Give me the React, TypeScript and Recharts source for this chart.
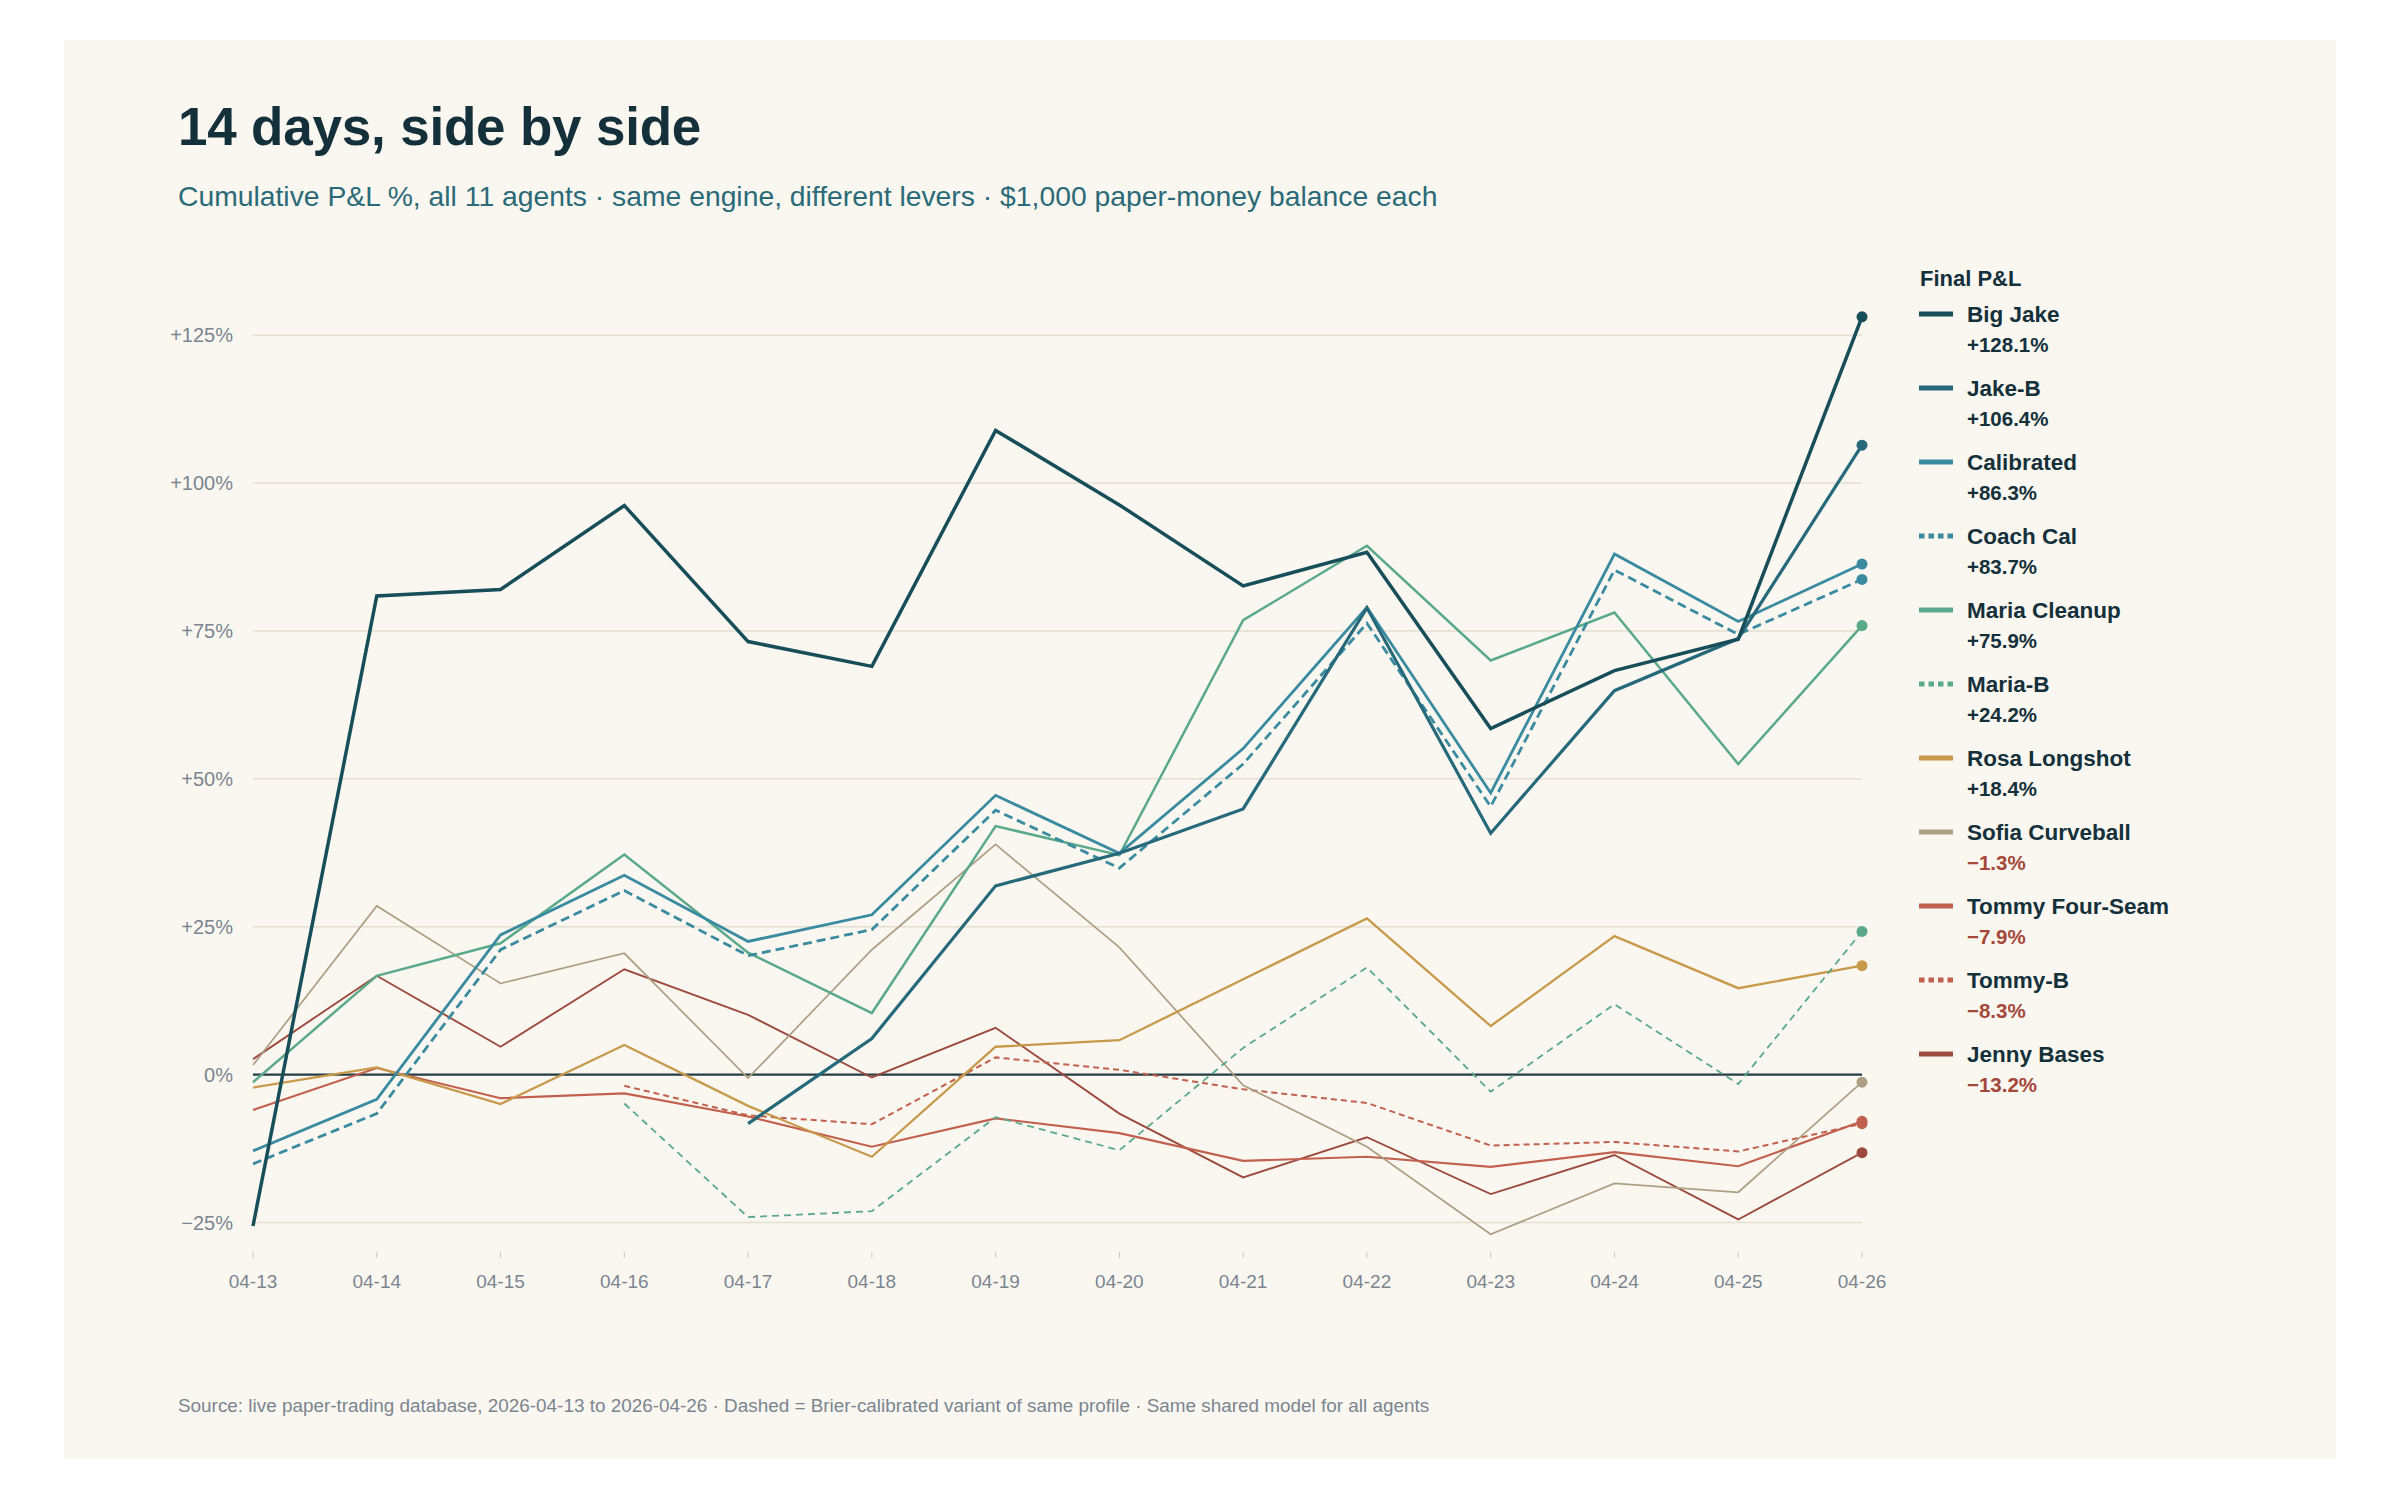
import React from 'react';
import { LineChart, Line, XAxis, YAxis, ReferenceLine } from 'recharts';

const dates = ['04-13', '04-14', '04-15', '04-16', '04-17', '04-18', '04-19', '04-20', '04-21', '04-22', '04-23', '04-24', '04-25', '04-26'];
const yTicks = [-25, 0, 25, 50, 75, 100, 125];

const bigJake = [-25.6, 80.9, 82.0, 96.2, 73.2, 69.0, 108.9, 96.3, 82.6, 88.3, 58.5, 68.3, 73.6, 128.1];
const jakeB = [null, null, null, null, -8.3, 6.1, 31.9, 37.4, 44.9, 78.9, 40.8, 64.9, 73.7, 106.4];
const calibrated = [-12.9, -4.2, 23.6, 33.7, 22.5, 27.0, 47.2, 37.4, 55.1, 79.0, 47.6, 88.0, 76.6, 86.3];
const coachCal = [-15.1, -6.6, 21.1, 31.1, 20.1, 24.5, 44.7, 34.9, 52.5, 76.3, 45.3, 85.3, 74.4, 83.7];
const mariaCleanup = [-1.3, 16.7, 22.2, 37.2, 20.6, 10.4, 42.0, 37.1, 76.8, 89.4, 70.0, 78.1, 52.5, 75.9];
const mariaB = [null, null, null, -4.9, -24.1, -23.1, -7.2, -12.8, 4.5, 18.1, -2.9, 11.9, -1.6, 24.2];
const rosa = [-2.2, 1.2, -5.0, 5.0, -5.3, -13.9, 4.7, 5.8, 16.1, 26.4, 8.2, 23.4, 14.6, 18.4];
const sofia = [1.6, 28.5, 15.4, 20.5, -0.6, 21.1, 38.9, 21.5, -1.8, -12.2, -27.0, -18.4, -19.9, -1.3];
const tommy = [-6.0, 1.1, -4.0, -3.2, -7.1, -12.2, -7.4, -9.9, -14.6, -13.9, -15.6, -13.1, -15.5, -7.9];
const tommyB = [null, null, null, -1.9, -6.9, -8.4, 2.9, 0.8, -2.5, -4.8, -12.0, -11.4, -13.0, -8.3];
const jenny = [2.6, 16.7, 4.7, 17.8, 10.1, -0.5, 7.9, -6.6, -17.4, -10.6, -20.2, -13.6, -24.5, -13.2];

interface Series {
  key: string;
  name: string;
  values: (number | null)[];
  color: string;
  width: number;
  dash?: string;
}

const series: Series[] = [
  { key: 'bigJake', name: 'Big Jake', values: bigJake, color: '#174e5a', width: 3.5 },
  { key: 'jakeB', name: 'Jake-B', values: jakeB, color: '#26697a', width: 3.2 },
  { key: 'calibrated', name: 'Calibrated', values: calibrated, color: '#3a8aa0', width: 2.8 },
  { key: 'coachCal', name: 'Coach Cal', values: coachCal, color: '#3a8aa0', width: 2.8, dash: '9 5' },
  { key: 'mariaCleanup', name: 'Maria Cleanup', values: mariaCleanup, color: '#5aa98b', width: 2.5 },
  { key: 'mariaB', name: 'Maria-B', values: mariaB, color: '#5aa98b', width: 1.8, dash: '7 5' },
  { key: 'rosa', name: 'Rosa Longshot', values: rosa, color: '#c8994a', width: 2.3 },
  { key: 'sofia', name: 'Sofia Curveball', values: sofia, color: '#ad9f83', width: 1.7 },
  { key: 'tommy', name: 'Tommy Four-Seam', values: tommy, color: '#c2604e', width: 2.2 },
  { key: 'tommyB', name: 'Tommy-B', values: tommyB, color: '#c2604e', width: 2, dash: '6 4' },
  { key: 'jenny', name: 'Jenny Bases', values: jenny, color: '#9c4a3d', width: 1.9 },
];

const data = dates.map((d, i) => {
  const row: Record<string, string | number | null> = { date: d };
  series.forEach((s) => {
    row[s.key] = s.values[i];
  });
  return row;
});

const W = 2272;
const H = 1419;
const FONT = '"Liberation Sans", Arial, Helvetica, sans-serif';
const INK = '#14303b';
const NEG = '#a4483a';
const MUTED = '#7b8590';

const fmtTick = (v: number) => (v > 0 ? `+${v}%` : v < 0 ? `\u2212${Math.abs(v)}%` : '0%');
const fmtFinal = (v: number) => (v >= 0 ? `+${v.toFixed(1)}%` : `\u2212${Math.abs(v).toFixed(1)}%`);

const lastDot = (color: string) => (props: any) => {
  if (props.index !== dates.length - 1 || props.cy == null) return null;
  return <circle key={`d-${props.index}`} cx={props.cx} cy={props.cy} r={5.5} fill={color} />;
};

export default function App() {
  return (
    <div style={{ paddingTop: 32, paddingLeft: 56 }}>
      <div style={{ position: 'relative', width: W, height: H, background: '#faf7f0', fontFamily: FONT }}>
        <div style={{ position: 'absolute', left: 0, top: 0 }}>
          <LineChart width={W} height={H} data={data} margin={{ top: 236, right: 474, bottom: 147, left: 89 }}>
            <XAxis
              dataKey="date"
              interval={0}
              height={60}
              axisLine={false}
              tickSize={6}
              tickMargin={17}
              tickLine={{ stroke: '#c9c6bd' }}
              tick={{ fill: MUTED, fontSize: 19, fontFamily: FONT }}
            />
            <YAxis
              type="number"
              domain={[-30, 135]}
              ticks={yTicks}
              width={100}
              axisLine={false}
              tickLine={false}
              tickSize={0}
              tickMargin={20}
              tickFormatter={fmtTick}
              tick={{ fill: MUTED, fontSize: 20, fontFamily: FONT }}
            />
            {yTicks.filter((t) => t !== 0).map((t) => (
              <ReferenceLine key={t} y={t} stroke="#e4dfd3" strokeWidth={1.5} />
            ))}
            <ReferenceLine y={0} stroke="#243c45" strokeWidth={2.2} />
            {[...series].reverse().map((s) => (
              <Line
                key={s.key}
                type="linear"
                dataKey={s.key}
                stroke={s.color}
                strokeWidth={s.width}
                strokeDasharray={s.dash}
                dot={lastDot(s.color)}
                activeDot={false}
                isAnimationActive={false}
              />
            ))}
          </LineChart>
        </div>
        <svg width={W} height={H} style={{ position: 'absolute', left: 0, top: 0, pointerEvents: 'none' }} fontFamily={FONT}>
          <text x={114} y={105} fontSize={53} fontWeight={700} fill={INK} letterSpacing={-0.2}>
            14 days, side by side
          </text>
          <text x={114} y={166} fontSize={28.3} fill="#2b6a78">
            Cumulative P&amp;L %, all 11 agents · same engine, different levers · $1,000 paper-money balance each
          </text>
          <text x={114} y={1372} fontSize={18.9} fill={MUTED}>
            Source: live paper-trading database, 2026-04-13 to 2026-04-26 · Dashed = Brier-calibrated variant of same profile · Same shared model for all agents
          </text>
          <text x={1856} y={246} fontSize={22} fontWeight={700} fill={INK}>
            Final P&amp;L
          </text>
          {series.map((s, i) => {
            const last = s.values[s.values.length - 1] as number;
            const y0 = 274 + 74 * i;
            return (
              <g key={s.key}>
                <line x1={1855} x2={1889} y1={y0} y2={y0} stroke={s.color} strokeWidth={5} strokeDasharray={s.dash ? '5.5 4' : undefined} />
                <text x={1903} y={y0 + 8} fontSize={22.5} fontWeight={700} fill={INK}>
                  {s.name}
                </text>
                <text x={1903} y={y0 + 38} fontSize={20.5} fontWeight={700} fill={last >= 0 ? INK : NEG}>
                  {fmtFinal(last)}
                </text>
              </g>
            );
          })}
        </svg>
      </div>
    </div>
  );
}
